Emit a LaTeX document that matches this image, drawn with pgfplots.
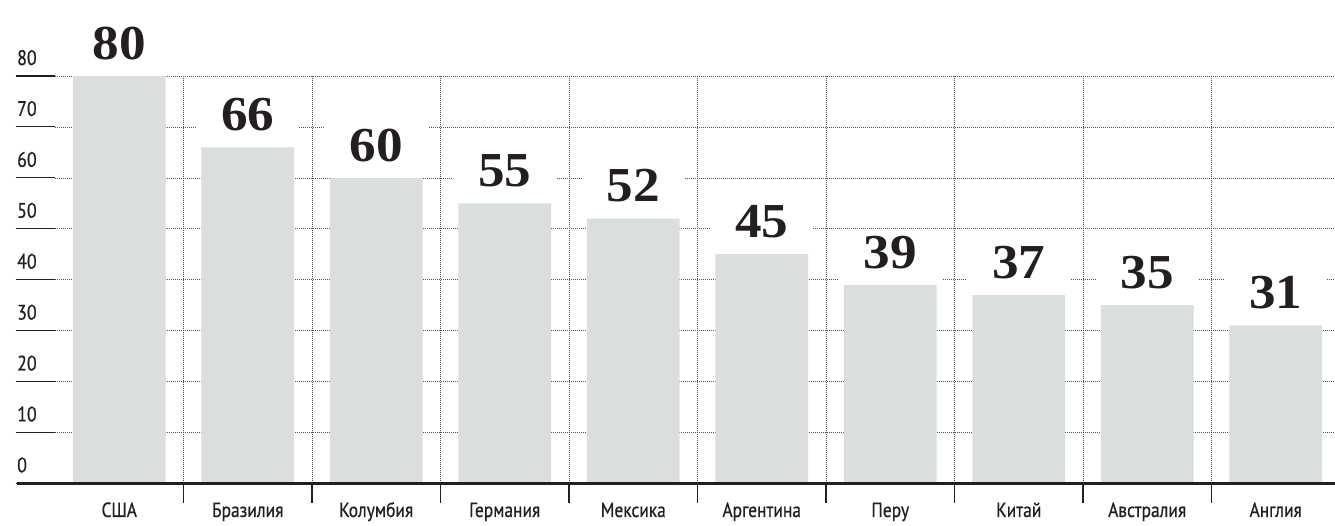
\documentclass[border=0pt]{standalone}
\usepackage{fontspec}
\usepackage{pgfplots}
\pgfplotsset{compat=1.18}
\setmainfont[FakeStretch=0.85, FakeBold=0.6]{PT Sans}
\newfontfamily\numfont[FakeStretch=1.09]{Liberation Serif}
\definecolor{barcol}{RGB}{218,223,219}
\definecolor{inkcol}{RGB}{35,31,32}
\definecolor{gridcol}{RGB}{80,80,80}
\begin{document}
\begin{tikzpicture}
\begin{axis}[
  at={(0,0)}, anchor=south west,
  scale only axis, width=1280pt, height=407.3pt,
  xmin=-0.5, xmax=9.461, ymin=0, ymax=80,
  clip=false,
  axis line style={draw=none},
  xtick={0,...,9},
  xticklabels={США,Бразилия,Колумбия,Германия,Мексика,Аргентина,Перу,Китай,Австралия,Англия},
  xticklabel style={anchor=base, inner sep=0pt, yshift=-33.7pt, font=\fontsize{20.5}{24}\selectfont, text=inkcol},
  minor xtick={0.5,1.5,...,8.5},
  ytick={0,10,...,80},
  yticklabels={},
  tick style={draw=none},
  ymajorgrids, xminorgrids,
  major grid style={draw=gridcol, line width=0.6pt, dash pattern=on 1pt off 1pt},
  minor grid style={draw=gridcol, line width=0.6pt, dash pattern=on 1pt off 1pt},
  /pgf/number format/assume math mode=true,
]
\addplot[ybar, bar width=92.7pt, fill=barcol, draw=none,
  nodes near coords,
  every node near coord/.append style={
    font=\numfont\bfseries\fontsize{48.8}{50}\selectfont,
    text=inkcol, fill=white, anchor=south,
    inner xsep=0pt, inner ysep=0pt, minimum width=103pt,
    text height=36pt, text depth=16.5pt}]
  coordinates {(0,80) (1,66) (2,60) (3,55) (4,52) (5,45) (6,39) (7,37) (8,35) (9,31)};
\pgfplotsinvokeforeach{0,10,20,30,40,50,60,70,80}{
  \draw[inkcol, line width=1.1pt] ([xshift=-39pt]axis cs:-0.5,#1) -- (axis cs:-0.5,#1);
  \node[anchor=base west, inner sep=0pt, text=inkcol, font=\fontsize{21}{24}\selectfont]
    at ([xshift=-38pt, yshift=11pt]axis cs:-0.5,#1) {#1};
}
\pgfplotsinvokeforeach{0.5,1.5,2.5,3.5,4.5,5.5,6.5,7.5,8.5}{
  \draw[inkcol, line width=1.1pt] (axis cs:#1,0) -- ([yshift=-19.4pt]axis cs:#1,0);
}
\draw[inkcol, line width=2.6pt] ([xshift=-38pt]axis cs:-0.5,0) -- (axis cs:9.461,0);
\end{axis}
\pgfresetboundingbox
\path[use as bounding box] (-55pt,-42.7pt) rectangle (1280pt,483.3pt);
\end{tikzpicture}
\end{document}
